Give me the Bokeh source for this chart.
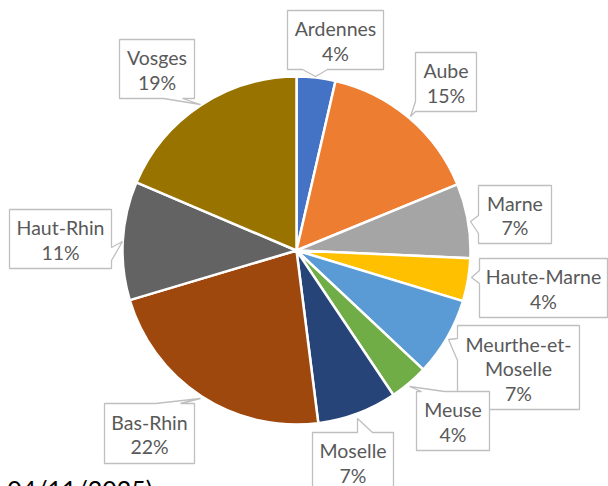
import numpy as np
from bokeh.plotting import figure
from bokeh.models import Range1d, ColumnDataSource, Label
from bokeh.core.properties import value
from bokeh.embed import file_html
from bokeh.resources import INLINE

# ---- data ----
departements = ["Ardennes", "Aube", "Marne", "Haute-Marne", "Meurthe-et-Moselle",
                "Meuse", "Moselle", "Bas-Rhin", "Haut-Rhin", "Vosges"]
label_names = ["Ardennes", "Aube", "Marne", "Haute-Marne", "Meurthe-et-\nMoselle",
               "Meuse", "Moselle", "Bas-Rhin", "Haut-Rhin", "Vosges"]
parts = [3.6, 15.2, 6.9, 4.0, 7.3, 3.6, 7.4, 22.4, 11.0, 18.6]
footer_text = ": 04/11/2025)"

# ---- style / layout ----
colors = ["#4472C4", "#ED7D31", "#A5A5A5", "#FFC000", "#5B9BD5",
          "#70AD47", "#264478", "#9E480E", "#636363", "#997300"]
W, H = 608, 486
FONT = "Lato"
TXT = "#595959"

def px(X):
    return X

def py(Y):
    return H - Y

# callout boxes in reference pixels: (x0, y0, x1, y1), side, base (a, b), tip (x, y)
callouts = [
    ((287, 10, 383, 69), "bottom", (302, 327), (315, 76)),
    ((415, 52, 476, 111), "left", (101, 111), (410, 116)),
    ((478, 185, 551, 243), "left", (215, 233), (470, 221)),
    ((479, 258, 607, 317), "left", (270, 283), (471, 277)),
    ((457, 325, 579, 409), "left", (338, 360), (448, 339)),
    ((416, 391, 489, 450), "top", (421, 444), (409, 386)),
    ((312, 432, 393, 491), "top", (357, 372), (357, 418)),
    ((104, 403, 194, 463), "top", (155, 180), (200, 398)),
    ((9, 209, 111, 268), "right", (247, 260), (122, 241)),
    ((119, 39, 194, 98), "bottom", (163, 182), (200, 104)),
]

p = figure(width=W, height=H, output_backend="svg", toolbar_location=None,
           x_range=Range1d(0, W), y_range=Range1d(0, H), min_border=0)
p.axis.visible = False
p.grid.visible = False
p.outline_line_color = None
p.background_fill_color = "white"
p.border_fill_color = "white"

# ---- pie ----
vals = np.array(parts, dtype=float)
frac = vals / vals.sum()
cum = np.concatenate([[0.0], np.cumsum(frac)])
start = np.pi / 2 - cum[1:] * 2 * np.pi
end = np.pi / 2 - cum[:-1] * 2 * np.pi
pie_src = ColumnDataSource(dict(start=start, end=end, color=colors, name=departements))
cx, cy, r = px(296), py(250), 174
p.wedge(x=cx, y=cy, radius=r, radius_units="screen", start_angle="start", end_angle="end",
        fill_color="color", line_color="white", line_width=2.5, source=pie_src)

# ---- callouts ----
xs, ys = [], []
tx, ty, tt = [], [], []
for i, (box, side, base, tip) in enumerate(callouts):
    x0, y0, x1, y1 = box
    a, b = base
    if side == "bottom":
        pts = [(x0, y0), (x1, y0), (x1, y1), (b, y1), tip, (a, y1), (x0, y1)]
    elif side == "top":
        pts = [(x0, y0), (a, y0), tip, (b, y0), (x1, y0), (x1, y1), (x0, y1)]
    elif side == "left":
        pts = [(x0, y0), (x1, y0), (x1, y1), (x0, y1), (x0, b), tip, (x0, a)]
    else:
        pts = [(x0, y0), (x1, y0), (x1, a), tip, (x1, b), (x1, y1), (x0, y1)]
    xs.append([px(q[0]) for q in pts])
    ys.append([py(q[1]) for q in pts])
    lines = label_names[i].split("\n") + ["%d%%" % round(parts[i])]
    n = len(lines)
    cxb = (x0 + x1) / 2
    cyb = (y0 + y1) / 2
    for k, s in enumerate(lines):
        capc = cyb + (k - (n - 1) / 2) * 24.5
        tx.append(px(cxb))
        ty.append(py(capc + 1))
        tt.append(s)

p.patches(xs, ys, fill_color="white", line_color="#BFBFBF", line_width=1.3)
p.text(x=tx, y=ty, text=tt, text_font=value(FONT), text_font_size="19.5px",
       text_color=TXT, text_align="center", text_baseline="alphabetic")

p.add_layout(Label(x=px(152), y=py(488), text=footer_text, text_font=FONT,
                   text_font_size="25px", text_color="#000000", text_align="right",
                   text_baseline="alphabetic"))

open("out.html", "w").write(file_html(p, INLINE))
